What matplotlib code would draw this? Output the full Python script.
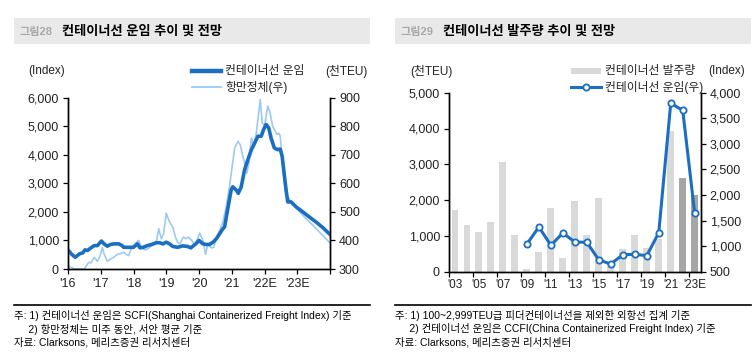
import matplotlib
matplotlib.use('Agg')
import matplotlib.pyplot as plt
from matplotlib.lines import Line2D
from matplotlib.patches import Rectangle

plt.rcParams['font.family'] = ['Liberation Sans', 'Noto Sans CJK KR']

# 그림28: SCFI (좌) / 항만정체 (우), 소수 연도 기준
scfi_t = [2016.00, 2016.10, 2016.22, 2016.35, 2016.45, 2016.52, 2016.60, 2016.70, 2016.80, 2016.90,
          2017.02, 2017.10, 2017.20, 2017.30, 2017.40, 2017.55, 2017.65, 2017.70, 2017.90, 2018.00,
          2018.12, 2018.20, 2018.30, 2018.40, 2018.55, 2018.70, 2018.80, 2018.90, 2019.00, 2019.10,
          2019.20, 2019.35, 2019.50, 2019.65, 2019.75, 2019.90, 2020.00, 2020.12, 2020.22, 2020.32,
          2020.43, 2020.53, 2020.63, 2020.73, 2020.78, 2020.88, 2020.98, 2021.03, 2021.14, 2021.20,
          2021.29, 2021.39, 2021.49, 2021.60, 2021.70, 2021.80, 2021.90, 2021.97, 2022.05, 2022.13,
          2022.20, 2022.30, 2022.40, 2022.48, 2022.54, 2022.61, 2022.66, 2022.71, 2022.81, 2022.96,
          2023.17, 2023.37, 2023.57, 2023.78, 2024.00]
scfi_v = [670, 530, 410, 530, 565, 670, 650, 740, 820, 820,
          980, 880, 800, 860, 880, 880, 820, 760, 760, 760,
          880, 740, 760, 810, 860, 920, 920, 880, 940, 880,
          790, 760, 810, 790, 740, 880, 1000, 880, 860, 860,
          940, 1060, 1235, 1410, 1470, 2120, 2760, 2880, 2760, 2650,
          2880, 3470, 3820, 4180, 4410, 4650, 4650, 4880, 5060, 4940,
          4590, 4240, 4180, 4200, 3940, 3240, 2760, 2350, 2350, 2180,
          2000, 1820, 1650, 1450, 1210]

cong_t = [2016.00, 2016.10, 2016.20, 2016.30, 2016.40, 2016.50, 2016.60, 2016.65, 2016.70, 2016.80,
          2016.90, 2016.98, 2017.05, 2017.10, 2017.20, 2017.30, 2017.40, 2017.50, 2017.60, 2017.70,
          2017.75, 2017.85, 2017.95, 2018.05, 2018.15, 2018.25, 2018.35, 2018.45, 2018.55, 2018.65,
          2018.70, 2018.77, 2018.85, 2018.92, 2019.00, 2019.10, 2019.20, 2019.28, 2019.35, 2019.42,
          2019.52, 2019.60, 2019.68, 2019.78, 2019.88, 2020.02, 2020.12, 2020.20, 2020.27, 2020.38,
          2020.45, 2020.53, 2020.63, 2020.73, 2020.83, 2020.93, 2021.02, 2021.09, 2021.19, 2021.26,
          2021.34, 2021.42, 2021.46, 2021.52, 2021.60, 2021.67, 2021.75, 2021.81, 2021.87, 2021.93,
          2022.00, 2022.10, 2022.17, 2022.25, 2022.33, 2022.38, 2022.44, 2022.48, 2022.56, 2022.63,
          2022.71, 2022.86, 2023.07, 2023.27, 2023.48, 2023.68, 2023.83, 2024.00]
cong_v = [308, 306, 300, 300, 300, 300, 318, 324, 321, 341,
          327, 347, 376, 353, 327, 335, 341, 351, 353, 359,
          353, 347, 376, 388, 400, 376, 367, 371, 382, 388,
          398, 441, 406, 424, 496, 465, 447, 412, 394, 388,
          412, 406, 412, 400, 382, 426, 400, 351, 388, 374,
          376, 406, 435, 465, 518, 588, 665, 724, 747, 735,
          694, 659, 635, 671, 759, 729, 776, 835, 894, 812,
          800, 871, 847, 800, 782, 771, 776, 765, 659, 576,
          553, 529, 500, 476, 453, 429, 412, 391]

year_ticks = [2016, 2017, 2018, 2019, 2020, 2021, 2022, 2023, 2024]
year_labels = ["'16", "'17", "'18", "'19", "'20", "'21", "'22E", "'23E", ""]

# 그림29: 발주량 (좌, 천TEU) / CCFI (우)
years = ["'03", "'04", "'05", "'06", "'07", "'08", "'09", "'10", "'11", "'12", "'13",
         "'14", "'15", "'16", "'17", "'18", "'19", "'20", "'21", "'22", "'23E"]
orders = [1730, 1310, 1110, 1380, 3060, 1025, 65, 540, 1770, 395, 1985,
          1020, 2060, 230, 635, 1035, 670, 905, 3930, 2625, 2150]
ccfi = [None, None, None, None, None, None, 1040, 1375, 1015, 1257, 1080,
        1075, 730, 650, 832, 840, 813, 1263, 3793, 3656, 1642]
forecast = [False] * 19 + [True, True]

W, H = 756, 363
DARK = '#1b6ec2'
LIGHT = '#9dcaf3'
TXT = '#222222'


def fx(px):
    return px / W


def fy(py):
    return 1 - py / H


fig = plt.figure(figsize=(W / 100, H / 100), dpi=100)

# 제목 띠
for x0, x1, num, title in [(14, 370, '그림28', '컨테이너선 운임 추이 및 전망'),
                           (395, 751, '그림29', '컨테이너선 발주량 추이 및 전망')]:
    fig.add_artist(Rectangle((fx(x0), fy(44)), (x1 - x0) / W, 26 / H,
                             transform=fig.transFigure, color='#e9e9e9', lw=0))
    fig.text(fx(x0 + 6), fy(31.5), num, color='#a8a8a8', fontsize=8, fontweight='bold', va='center')
    fig.text(fx(x0 + 48), fy(31.5), title, color='black', fontsize=9.5, fontweight='bold', va='center')

# 주석
for x0, x1, lines in [(14, 370, ['주: 1) 컨테이너선 운임은 SCFI(Shanghai Containerized Freight Index) 기준',
                                 '     2) 항만정체는 미주 동안, 서안 평균 기준',
                                 '자료: Clarksons, 메리츠증권 리서치센터']),
                      (395, 751, ['주: 1) 100~2,999TEU급 피더컨테이너선을 제외한 외항선 집계 기준',
                                  '     2) 컨테이너선 운임은 CCFI(China Containerized Freight Index) 기준',
                                  '자료: Clarksons, 메리츠증권 리서치센터'])]:
    fig.add_artist(Line2D([fx(x0), fx(x1)], [fy(304.5), fy(304.5)], transform=fig.transFigure,
                          color='black', lw=1.2))
    for i, s in enumerate(lines):
        fig.text(fx(x0), fy(315.5 + i * 13.5), s, fontsize=7.5, va='center', color='black')

# ---- 왼쪽 차트 ----
ax1 = fig.add_axes([fx(68), fy(269), (330 - 68) / W, (269 - 97.7) / H])
ax1b = ax1.twinx()
ax1b.plot(cong_t, cong_v, color=LIGHT, lw=1.2)
ax1.plot(scfi_t, scfi_v, color=DARK, lw=2.6, solid_joinstyle='round')
ax1.set_zorder(ax1b.get_zorder() + 1)
ax1.patch.set_visible(False)
ax1.set_xlim(2016, 2024)
ax1.set_ylim(0, 6000)
ax1b.set_ylim(300, 900)
ax1.set_yticks(range(0, 6001, 1000))
ax1.set_yticklabels([f'{v:,}' for v in range(0, 6001, 1000)])
ax1b.set_yticks(range(300, 901, 100))
ax1.set_xticks(year_ticks)
ax1.set_xticklabels(year_labels)

# ---- 오른쪽 차트 ----
ax2 = fig.add_axes([fx(449), fy(271.7), (700.7 - 449) / W, (271.7 - 92.7) / H])
ax2b = ax2.twinx()
pos = list(range(len(years)))
ax2.bar(pos, orders, width=0.58, color=['#a6a6a6' if f else '#d9d9d9' for f in forecast], lw=0)
line_x = [p for p, v in zip(pos, ccfi) if v is not None]
line_y = [v for v in ccfi if v is not None]
ax2b.plot(line_x, line_y, color=DARK, lw=2.2, marker='o', ms=4.5, mfc='white', mec=DARK, mew=1.3)
ax2.set_xlim(-0.5, len(years) - 0.5)
ax2.set_ylim(0, 5000)
ax2b.set_ylim(500, 4000)
ax2.set_yticks(range(0, 5001, 1000))
ax2.set_yticklabels([f'{v:,}' for v in range(0, 5001, 1000)])
ax2b.set_yticks(range(500, 4001, 500))
ax2b.set_yticklabels([f'{v:,}' for v in range(500, 4001, 500)])
ax2.set_xticks([p - 0.5 for p in pos[::2]])
ax2.set_xticklabels([])
ax2.set_xticks(pos[::2], minor=True)
ax2.set_xticklabels([years[p] for p in pos[::2]], minor=True)

for a in [ax1, ax1b, ax2, ax2b]:
    a.spines['top'].set_visible(False)
    for s in ['left', 'right', 'bottom']:
        a.spines[s].set_color('black')
        a.spines[s].set_linewidth(1.0)
    a.tick_params(direction='out', length=3.5, width=0.9, labelsize=9, colors='black',
                  labelcolor=TXT, pad=3)
ax2.tick_params(axis='x', which='minor', length=0, pad=5, labelsize=8.5, labelcolor=TXT)

# 단위 / 범례
fig.text(fx(28), fy(71), '(Index)', fontsize=8.5, va='center', color=TXT)
fig.text(fx(325), fy(71), '(천TEU)', fontsize=8.5, va='center', color=TXT)
fig.add_artist(Line2D([fx(192), fx(221)], [fy(70.7), fy(70.7)], transform=fig.transFigure,
                      color=DARK, lw=3.2))
fig.add_artist(Line2D([fx(192), fx(221)], [fy(87.3), fy(87.3)], transform=fig.transFigure,
                      color=LIGHT, lw=1.3))
fig.text(fx(225), fy(70.7), '컨테이너선 운임', fontsize=8.5, va='center', color=TXT)
fig.text(fx(225), fy(87.3), '항만정체(우)', fontsize=8.5, va='center', color=TXT)

fig.text(fx(410), fy(71), '(천TEU)', fontsize=8.5, va='center', color=TXT)
fig.text(fx(708), fy(71), '(Index)', fontsize=8.5, va='center', color=TXT)
fig.add_artist(Rectangle((fx(571), fy(74)), 30 / W, 6.5 / H, transform=fig.transFigure,
                         color='#d9d9d9', lw=0))
fig.add_artist(Line2D([fx(571), fx(601)], [fy(87.3), fy(87.3)], transform=fig.transFigure,
                      color=DARK, lw=2.2))
fig.add_artist(Line2D([fx(586)], [fy(87.3)], transform=fig.transFigure, color=DARK,
                      marker='o', ms=4.5, mfc='white', mec=DARK, mew=1.3))
fig.text(fx(605), fy(70.7), '컨테이너선 발주량', fontsize=8.5, va='center', color=TXT)
fig.text(fx(605), fy(87.3), '컨테이너선 운임(우)', fontsize=8.5, va='center', color=TXT)

fig.savefig('out.png', dpi=100)
